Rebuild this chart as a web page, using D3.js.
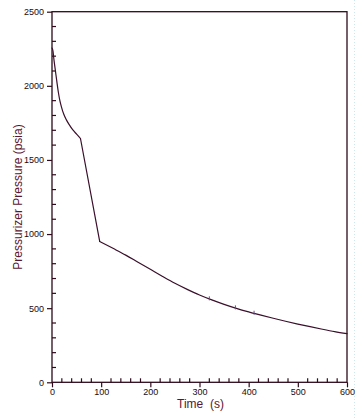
<!DOCTYPE html>
<html><head><meta charset="utf-8">
<script src="https://cdn.jsdelivr.net/npm/d3@7"></script>
<style>
html,body{margin:0;padding:0;background:#fff;}
svg{display:block;}
</style></head>
<body>
<svg id="chart" width="357" height="420"></svg>
<script>
const timeS = [0, 2, 4, 7, 10, 13, 16, 19, 24, 29, 35, 42, 50, 57, 58, 97, 125, 150, 175, 200, 225, 250, 275, 300, 325, 350, 375, 400, 425, 450, 475, 500, 525, 550, 575, 600];
const pressure = [2255, 2235, 2175, 2100, 2025, 1955, 1900, 1860, 1808, 1772, 1738, 1704, 1674, 1648, 1643, 950, 902, 858, 810, 762, 714, 668, 627, 589, 556, 526, 499, 475, 453, 432, 412, 393, 375, 358, 342, 328];
const markTime = [320, 373, 411];
const markPressure = [563, 502, 466];
const xTicks = [0, 100, 200, 300, 400, 500, 600];
const yTicks = [0, 500, 1000, 1500, 2000, 2500];
const xTitle = "Time  (s)";
const yTitle = "Pressurizer Pressure (psia)";

const axisCol = "#2e0a1a", lineCol = "#3a0f2a", textCol = "#1a0a10", titleCol = "#5a1630";
const svg = d3.select("#chart");
const L = 52, R = 347, T = 11.7, B = 382.3;
const x = d3.scaleLinear().domain([0, 600]).range([L, R]);
const y = d3.scaleLinear().domain([0, 2500]).range([B, T]);

svg.append("line").attr("x1", 354.5).attr("x2", 354.5).attr("y1", 0).attr("y2", 420)
  .attr("stroke", "#cfe6ee").attr("stroke-width", 1).attr("stroke-dasharray", "1,2");

svg.append("rect").attr("x", L).attr("y", T).attr("width", R - L).attr("height", B - T)
  .attr("fill", "none").attr("stroke", axisCol).attr("stroke-width", 1.3);

const yAx = svg.append("g").attr("transform", `translate(${L},0)`)
  .call(d3.axisLeft(y).tickValues(yTicks).tickSize(5).tickPadding(3).tickFormat(d3.format("d")));
yAx.select(".domain").remove();
yAx.selectAll("line").attr("stroke", axisCol).attr("stroke-width", 1.2);
yAx.selectAll("text").attr("fill", textCol).style("font-family", "'Liberation Sans Narrow','Liberation Sans',sans-serif").style("font-size", "9px");
const yMinor = d3.range(100, 2500, 100).filter(v => v % 500 !== 0);
svg.append("g").selectAll("line").data(yMinor).join("line")
  .attr("x1", L).attr("x2", L + 4).attr("y1", d => y(d)).attr("y2", d => y(d))
  .attr("stroke", axisCol).attr("stroke-width", 1.2);

const xAx = svg.append("g").attr("transform", `translate(0,${B})`)
  .call(d3.axisBottom(x).tickValues(xTicks).tickSize(5).tickPadding(1).tickFormat(d3.format("d")));
xAx.select(".domain").remove();
xAx.selectAll("line").attr("stroke", axisCol).attr("stroke-width", 1.2);
xAx.selectAll("text").attr("fill", textCol).style("font-family", "'Liberation Sans Narrow','Liberation Sans',sans-serif").style("font-size", "9px");
const xMinor = d3.range(20, 600, 20).filter(v => v % 100 !== 0);
svg.append("g").selectAll("line").data(xMinor).join("line")
  .attr("x1", d => x(d)).attr("x2", d => x(d)).attr("y1", B).attr("y2", B - 4)
  .attr("stroke", axisCol).attr("stroke-width", 1.2);

// line: smooth pieces joined by a straight drop between 58 s and 97 s
const pts = timeS.map((t, i) => [t, pressure[i]]);
const k1 = timeS.indexOf(58), k2 = timeS.indexOf(97);
const pieces = [
  { d: pts.slice(0, k1 + 1), c: d3.curveMonotoneX },
  { d: pts.slice(k1, k2 + 1), c: d3.curveLinear },
  { d: pts.slice(k2), c: d3.curveMonotoneX }
];
const g = svg.append("g");
pieces.forEach(p => {
  g.append("path").datum(p.d)
    .attr("d", d3.line().x(d => x(d[0])).y(d => y(d[1])).curve(p.c))
    .attr("fill", "none").attr("stroke", lineCol).attr("stroke-width", 1.2)
    .attr("stroke-linejoin", "round").attr("stroke-linecap", "round");
});

svg.append("g").selectAll("line").data(markTime.map((t, i) => [t, markPressure[i]])).join("line")
  .attr("x1", d => x(d[0])).attr("x2", d => x(d[0]))
  .attr("y1", d => y(d[1]) - 2.5).attr("y2", d => y(d[1]) + 1.5)
  .attr("stroke", "#6a4a8a").attr("stroke-width", 1);

svg.append("text").attr("x", (L + R) / 2 + 1).attr("y", 408).attr("text-anchor", "middle")
  .attr("fill", titleCol).style("font-family", "'Liberation Sans',Arial,sans-serif").style("font-size", "12px")
  .style("white-space", "pre").attr("xml:space", "preserve").text(xTitle);
svg.append("text").attr("transform", `translate(22,${(T + B) / 2}) rotate(-90)`).attr("text-anchor", "middle")
  .attr("fill", titleCol).style("font-family", "'Liberation Sans',Arial,sans-serif").style("font-size", "12px")
  .text(yTitle);
</script>
</body></html>
